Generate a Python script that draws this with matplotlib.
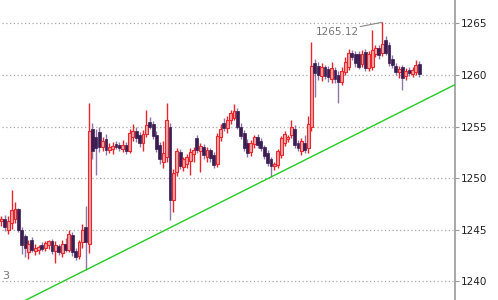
import matplotlib
matplotlib.use("Agg")
import matplotlib.pyplot as plt
import numpy as np

# OHLC data
opens = [1245.8,1246.0,1245.0,1245.6,1246.0,1247.0,1245.0,1244.4,1242.8,1244.0,
         1242.9,1243.0,1243.5,1243.2,1243.5,1243.9,1242.9,1243.4,1242.7,1243.6,
         1243.0,1244.5,1242.9,1242.4,1243.8,1245.2,1243.6,1254.8,1254.0,1254.5,
         1253.0,1253.8,1252.7,1252.8,1253.3,1253.2,1252.8,1253.2,1252.6,1254.0,
         1254.6,1254.2,1253.4,1254.3,1255.4,1255.2,1254.2,1253.2,1251.6,1252.0,
         1255.0,1247.9,1250.6,1252.5,1251.1,1251.4,1251.7,1252.3,1253.9,1252.6,
         1253.0,1252.0,1252.7,1252.2,1251.4,1254.0,1255.3,1254.9,1255.6,1255.8,
         1256.5,1255.0,1254.4,1253.4,1252.5,1253.3,1254.0,1253.6,1253.0,1252.4,
         1251.8,1251.2,1251.3,1252.2,1253.4,1253.8,1254.2,1254.8,1253.4,1252.6,
         1253.4,1252.9,1255.0,1261.2,1260.9,1259.9,1260.8,1260.6,1259.6,1260.5,
         1260.0,1259.3,1260.3,1260.8,1262.1,1262.0,1262.0,1261.1,1262.2,1260.7,
         1260.8,1262.0,1262.6,1262.1,1263.4,1262.9,1261.6,1260.9,1260.3,1260.8,
         1259.9,1260.5,1260.1,1260.3,1261.1]
highs = [1246.3,1246.4,1246.3,1248.8,1247.7,1247.1,1245.2,1244.6,1244.0,1244.3,
         1243.6,1243.5,1243.8,1243.9,1244.0,1244.1,1243.9,1243.6,1244.0,1244.2,
         1245.0,1244.8,1243.2,1244.0,1245.5,1247.3,1257.3,1255.3,1254.8,1255.0,
         1254.0,1254.3,1253.4,1253.5,1253.6,1253.5,1253.7,1253.5,1254.8,1255.2,
         1255.0,1254.5,1254.7,1256.6,1255.9,1255.5,1254.6,1253.5,1253.6,1257.3,
         1255.3,1250.9,1252.9,1252.8,1252.0,1252.3,1252.9,1253.0,1254.2,1253.4,
         1253.3,1253.0,1252.9,1252.5,1254.4,1255.2,1255.8,1256.0,1256.6,1257.2,
         1256.8,1255.3,1254.7,1253.8,1253.7,1254.2,1254.3,1253.9,1253.2,1252.7,
         1252.0,1251.6,1252.8,1254.1,1254.6,1254.2,1255.6,1255.1,1253.7,1253.9,
         1254.2,1256.0,1263.2,1261.6,1261.3,1261.2,1261.0,1260.9,1261.3,1260.8,
         1260.4,1260.8,1261.7,1262.5,1262.4,1262.3,1262.3,1262.4,1262.5,1262.3,
         1264.4,1262.9,1262.9,1265.12,1263.8,1263.2,1261.9,1261.2,1260.9,1261.0,
         1260.7,1260.8,1260.8,1261.5,1261.4]
lows = [1245.3,1244.9,1244.6,1245.1,1245.6,1244.8,1242.6,1242.3,1242.1,1242.8,
        1242.5,1242.6,1242.9,1242.9,1243.1,1242.6,1241.8,1242.5,1242.3,1242.8,
        1242.8,1242.4,1242.0,1242.1,1243.2,1241.07,1242.7,1251.8,1250.3,1252.5,
        1252.6,1252.2,1252.4,1252.3,1252.8,1252.6,1252.5,1252.3,1252.4,1253.6,
        1253.5,1253.0,1252.6,1254.0,1254.8,1253.8,1252.5,1251.4,1251.0,1251.6,
        1245.9,1246.7,1250.2,1250.9,1250.7,1251.0,1250.3,1251.6,1252.4,1250.6,
        1251.8,1251.6,1251.6,1251.0,1251.1,1253.6,1254.6,1254.4,1255.2,1255.6,
        1254.8,1253.8,1252.6,1252.0,1252.1,1252.9,1252.9,1252.6,1251.8,1251.2,
        1250.1,1250.8,1251.0,1251.9,1253.1,1253.5,1253.9,1252.9,1252.6,1252.2,
        1252.4,1252.4,1254.6,1257.9,1259.5,1259.4,1259.6,1259.3,1259.2,1259.2,
        1257.3,1259.0,1260.0,1260.5,1261.5,1260.8,1260.6,1260.8,1260.4,1260.4,
        1260.5,1261.7,1261.6,1261.8,1261.9,1260.9,1260.7,1260.0,1259.7,1258.5,
        1259.5,1259.9,1259.8,1260.0,1259.8]
closes = [1246.0,1245.2,1245.8,1246.9,1247.0,1245.0,1243.5,1243.2,1243.6,1243.0,
          1243.2,1243.3,1243.1,1243.7,1243.9,1242.9,1243.5,1242.8,1243.6,1243.0,
          1244.6,1242.8,1242.3,1243.8,1245.0,1243.8,1254.6,1252.6,1252.9,1253.0,
          1253.6,1252.7,1253.0,1253.1,1253.0,1252.9,1253.2,1252.6,1254.4,1254.6,
          1253.9,1253.4,1254.3,1255.1,1255.0,1254.1,1252.8,1251.8,1252.4,1255.6,
          1247.9,1250.5,1252.6,1251.2,1251.8,1252.0,1252.5,1252.7,1252.7,1253.1,
          1252.2,1252.7,1251.9,1251.3,1254.1,1254.8,1254.9,1255.6,1256.3,1256.5,
          1255.0,1254.1,1252.9,1252.4,1253.4,1254.0,1253.2,1252.9,1252.1,1251.5,
          1251.2,1251.4,1252.6,1253.9,1254.3,1254.0,1255.0,1253.2,1252.9,1253.6,
          1252.7,1255.2,1260.9,1260.2,1260.0,1260.8,1259.9,1259.8,1260.7,1259.6,
          1259.3,1260.4,1261.3,1262.1,1261.7,1261.2,1260.8,1262.0,1260.7,1262.0,
          1262.4,1262.6,1261.9,1263.0,1262.1,1261.2,1261.0,1260.3,1260.6,1259.7,
          1260.4,1260.2,1260.5,1261.0,1260.1]

y_ticks = [1240, 1245, 1250, 1255, 1260, 1265]
trend_x = [25, 80]
trend_y = [1241.07, 1250.1]
peak_label = "1265.12"

UP_EDGE = "#e8262b"
UP_FILL = "#f2a3a6"
DN_FILL = "#3b1d52"
DN_WICK = "#8b78a6"

fig = plt.figure(figsize=(4.98, 3.00), dpi=100)
ax = fig.add_axes([0, 0, 455/498, 1])

n = len(closes)
xs = np.arange(n)
w = 0.85
for i in range(n):
    o, h, l, c = opens[i], highs[i], lows[i], closes[i]
    if c >= o:
        ax.vlines(xs[i], l, h, color=UP_EDGE, lw=1.0, zorder=2)
        ax.bar(xs[i], max(c - o, 0.08), bottom=o, width=w, color=UP_FILL,
               edgecolor=UP_EDGE, linewidth=0.8, zorder=3)
    else:
        ax.vlines(xs[i], l, h, color=DN_WICK, lw=1.0, zorder=2)
        ax.bar(xs[i], o - c, bottom=c, width=w, color=DN_FILL,
               edgecolor=DN_FILL, linewidth=0.5, zorder=3)

xmin, xmax = -0.445, 134.6
ymin, ymax = 1238.16, 1267.28
ax.set_xlim(xmin, xmax)
ax.set_ylim(ymin, ymax)

# trend line
coef = np.polyfit(trend_x, trend_y, 1)
tx = np.array([xmin, xmax])
ax.plot(tx, np.polyval(coef, tx), color="#22cc22", lw=1.0, zorder=4)

# gridlines
for t in y_ticks:
    ax.plot([xmin + 0.5, xmax - 0.6], [t, t], color="#a8a8a8", lw=0.9,
            linestyle=(0, (1, 2)), zorder=1)

# peak annotation
imax = int(np.argmax(highs))
ax.plot([imax - 6.5, imax], [1264.7, highs[imax]], color="#888888", lw=0.8, zorder=4)
ax.text(imax - 7, 1264.2, peak_label, ha="right", va="center", fontsize=7.5,
        color="#777777", family="DejaVu Sans")

ax.text(0.004, 0.08, "3", transform=ax.transAxes, fontsize=8, color="#777777",
        ha="left", va="center")

for s in ["top", "left", "bottom"]:
    ax.spines[s].set_visible(False)
ax.spines["right"].set_color("#999999")
ax.spines["right"].set_linewidth(1.2)
ax.yaxis.tick_right()
ax.set_yticks(y_ticks)
ax.set_yticklabels([str(t) for t in y_ticks])
ax.tick_params(axis="y", direction="out", length=3, width=0.8, color="#999999",
               labelsize=7.5, labelcolor="#222222", pad=1)
ax.set_xticks([])

fig.savefig("out.png", dpi=100)
